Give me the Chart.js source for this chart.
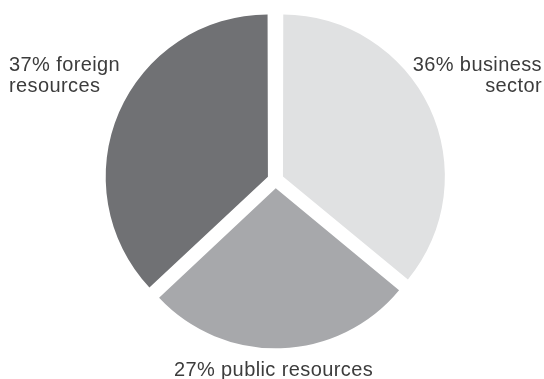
<!DOCTYPE html>
<html>
<head>
<meta charset="utf-8">
<script src="https://cdn.jsdelivr.net/npm/chart.js@4/dist/chart.umd.min.js"></script>
<style>
  html, body { margin: 0; padding: 0; background: #fff; }
  #chart { display: block; }
</style>
</head>
<body>
<canvas id="chart" width="544" height="379"></canvas>
<script>
// slices go clockwise from 12 o'clock
const categories = ['business\nsector', 'public resources', 'foreign\nresources'];
const shares = [36, 27, 37];
const sliceColors = ['#e0e1e2', '#a7a8ab', '#707174'];

// where each slice's caption sits: side of the canvas and text alignment
const labelPlacement = ['right', 'bottom', 'left'];

const pieLabels = {
    id: 'pieLabels',
    afterDraw(chart) {
        const ctx = chart.ctx;
        const meta = chart.getDatasetMeta(0);
        const W = chart.width, H = chart.height;
        ctx.save();
        ctx.font = '20px "Liberation Sans", Arial, sans-serif';
        ctx.letterSpacing = '0.4px';
        ctx.fillStyle = '#3c3c3c';
        ctx.textBaseline = 'alphabetic';
        const lineH = 21;
        meta.data.forEach((arc, i) => {
            const lines = (shares[i] + '% ' + categories[i]).split('\n');
            const side = labelPlacement[i];
            let x, y;
            if (side === 'left') {
                ctx.textAlign = 'left';
                x = 9;
                y = 71;
            } else if (side === 'right') {
                ctx.textAlign = 'right';
                x = W - 2;
                y = 71;
            } else {
                ctx.textAlign = 'center';
                x = arc.x - 2;
                y = H - 3;
            }
            lines.forEach((ln, k) => ctx.fillText(ln, x, y + k * lineH));
        });
        ctx.restore();
    }
};

const config = {
    type: 'pie',
    data: {
        labels: categories,
        datasets: [
            {
                data: shares,
                backgroundColor: sliceColors,
                borderWidth: 0,
                offset: 33,
                hoverOffset: 0,
            }
        ],
    },
    options: {
        responsive: false,
        animation: false,
        devicePixelRatio: 1,
        radius: 160,
        layout: {
            padding: { left: 7, right: 0, top: 0, bottom: 19 }
        },
        plugins: {
            legend: { display: false },
            tooltip: { enabled: false },
        },
    },
    plugins: [pieLabels],
};

new Chart(document.getElementById('chart'), config);
</script>
</body>
</html>
